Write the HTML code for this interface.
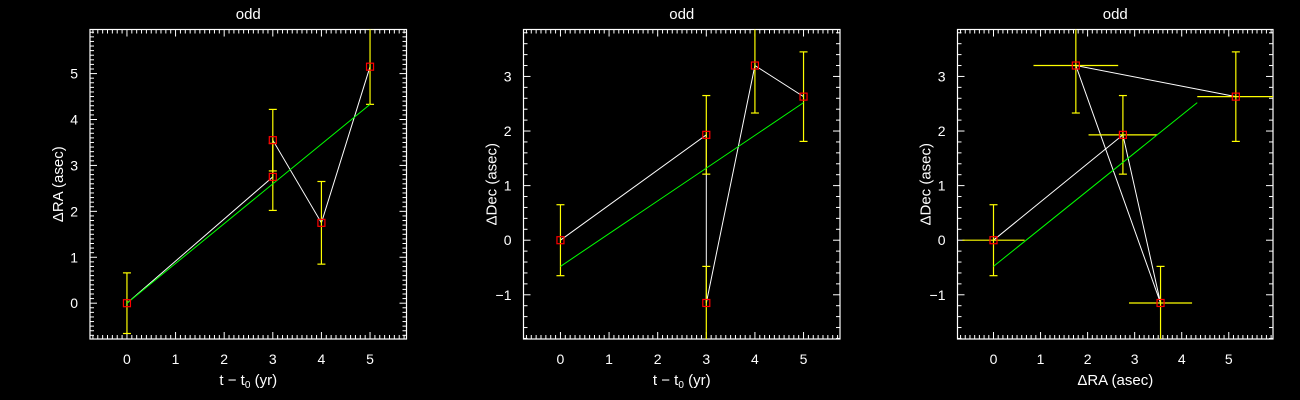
<!DOCTYPE html>
<html><head><meta charset="utf-8"><style>
html,body{margin:0;padding:0;background:#000;width:1300px;height:400px;overflow:hidden}
svg{display:block}
text{font-family:"Liberation Sans","DejaVu Sans",sans-serif;fill:#fff}
</style></head><body>
<svg id="chart" width="1300" height="400"></svg>
<script>
const years = [0, 3, 3, 4, 5];
const raVals = [0, 2.75, 3.55, 1.75, 5.15];
const raErrs = [0.66, 0.73, 0.67, 0.9, 0.82];
const decVals = [0, 1.93, -1.15, 3.2, 2.63];
const decErrs = [0.65, 0.72, 0.67, 0.87, 0.82];
const raFit = [0, 4.33];
const decFit = [-0.48, 2.52];
const fitYears = [0, 5];
const xTicks = [0, 1, 2, 3, 4, 5];
const raTicks = [0, 1, 2, 3, 4, 5];
const decTicks = [-1, 0, 1, 2, 3];

const NS = "http://www.w3.org/2000/svg";
const svg = document.getElementById('chart');
function mk(tag, attrs, parent) {
  const e = document.createElementNS(NS, tag);
  for (const k in attrs) e.setAttribute(k, attrs[k]);
  (parent || svg).appendChild(e);
  return e;
}

function panel(cfg) {
  const g = mk('g', {});
  
  
  const L = cfg.box[0], R = cfg.box[1], T = 29.5, B = 339;
  const sx = v => L + (v - cfg.xr[0]) / (cfg.xr[1] - cfg.xr[0]) * (R - L);
  const sy = v => B - (v - cfg.yr[0]) / (cfg.yr[1] - cfg.yr[0]) * (B - T);
  const clip = 'clip-' + cfg.name;
  const defs = mk('defs', {}, g);
  const cp = mk('clipPath', {id: clip}, defs);
  mk('rect', {x: L, y: T, width: R - L, height: B - T}, cp);
  const frame = mk('rect', {x: L, y: T, width: R - L, height: B - T, fill: 'none', stroke: '#fff', 'stroke-width': 1.2}, g);
  
  
  // x ticks
  for (let v = Math.ceil(cfg.xr[0] / cfg.xm) * cfg.xm; v <= cfg.xr[1] + 1e-9; v += cfg.xm) {
    const maj = Math.abs(v - Math.round(v)) < 1e-6;
    const len = maj ? 7 : 4;
    const x = sx(v);
    mk('line', {x1: x, x2: x, y1: B, y2: B - len, stroke: '#fff', 'stroke-width': 1}, g);
    mk('line', {x1: x, x2: x, y1: T, y2: T + len, stroke: '#fff', 'stroke-width': 1}, g);
  }
  for (let v = Math.ceil(cfg.yr[0] / cfg.ym) * cfg.ym; v <= cfg.yr[1] + 1e-9; v += cfg.ym) {
    const maj = Math.abs(v - Math.round(v)) < 1e-6;
    const len = maj ? 7 : 4;
    const y = sy(v);
    mk('line', {x1: L, x2: L + len, y1: y, y2: y, stroke: '#fff', 'stroke-width': 1}, g);
    mk('line', {x1: R, x2: R - len, y1: y, y2: y, stroke: '#fff', 'stroke-width': 1}, g);
  }
  cfg.xt.forEach(v => {
    const t = mk('text', {x: sx(v), y: 364, 'font-size': 14, 'text-anchor': 'middle'}, g);
    t.textContent = v;
    
    
  });
  cfg.yt.forEach(v => {
    const t = mk('text', {x: L - 12, y: sy(v) + 5, 'font-size': 14, 'text-anchor': 'end'}, g);
    t.textContent = v < 0 ? '\u2212' + (-v) : v;
    
    
  });
  const title = mk('text', {x: (L + R) / 2, y: 19, 'font-size': 15, 'text-anchor': 'middle'}, g);
  title.textContent = 'odd';
  
  
  const xl = mk('text', {x: (L + R) / 2, y: 385, 'font-size': 15, 'text-anchor': 'middle'}, g);
  xl.innerHTML = cfg.xlabel;
  
  
  const yl = mk('text', {x: 0, y: 0, 'font-size': 15, 'text-anchor': 'middle', transform: `translate(${L - 27},${(T + B) / 2}) rotate(-90)`}, g);
  yl.textContent = cfg.ylabel;
  
  

  const pg = mk('g', {'clip-path': `url(#${clip})`}, g);
  // white connecting line
  const pts = cfg.xs.map((x, i) => sx(x) + ',' + sy(cfg.ys[i])).join(' ');
  const wl = mk('polyline', {points: pts, fill: 'none', stroke: '#fff', 'stroke-width': 1}, pg);
  
  
  // error bars
  cfg.xs.forEach((x, i) => {
    const X = sx(x), Y = sy(cfg.ys[i]);
    const e = cfg.yerr[i];
    const y1 = sy(cfg.ys[i] + e), y2 = sy(cfg.ys[i] - e);
    const eb = mk('g', {stroke: '#ff0', 'stroke-width': 1.2}, pg);
    
    
    mk('line', {x1: X, x2: X, y1: y1, y2: y2}, eb);
    mk('line', {x1: X - 4, x2: X + 4, y1: y1, y2: y1}, eb);
    mk('line', {x1: X - 4, x2: X + 4, y1: y2, y2: y2}, eb);
    if (cfg.xerr) {
      const ex = cfg.xerr[i];
      mk('line', {x1: sx(x - ex), x2: sx(x + ex), y1: Y, y2: Y}, eb);
    }
  });
  // fit
  const fl = mk('line', {x1: sx(cfg.fx[0]), y1: sy(cfg.fy[0]), x2: sx(cfg.fx[1]), y2: sy(cfg.fy[1]), stroke: '#0f0', 'stroke-width': 1}, pg);
  
  
  cfg.xs.forEach((x, i) => {
    const m = mk('rect', {x: sx(x) - 3.5, y: sy(cfg.ys[i]) - 3.5, width: 7, height: 7, fill: 'none', stroke: '#f00', 'stroke-width': 1.2}, pg);
    
    
  });
}

panel({name: 'ra-vs-time-panel', box: [90, 406.5], xr: [-0.76, 5.75], yr: [-0.78, 5.96], xm: 0.1, ym: 0.1,
  xt: xTicks, yt: raTicks, xs: years, ys: raVals, yerr: raErrs, fx: fitYears, fy: raFit,
  xlabel: 't \u2212 t<tspan font-size="10" dy="3">0</tspan><tspan dy="-3"> (yr)</tspan>', ylabel: '\u0394RA (asec)'});
panel({name: 'dec-vs-time-panel', box: [523.5, 840], xr: [-0.76, 5.75], yr: [-1.81, 3.86], xm: 0.1, ym: 0.2,
  xt: xTicks, yt: decTicks, xs: years, ys: decVals, yerr: decErrs, fx: fitYears, fy: decFit,
  xlabel: 't \u2212 t<tspan font-size="10" dy="3">0</tspan><tspan dy="-3"> (yr)</tspan>', ylabel: '\u0394Dec (asec)'});
panel({name: 'dec-vs-ra-panel', box: [957.5, 1273], xr: [-0.765, 5.94], yr: [-1.81, 3.86], xm: 0.1, ym: 0.2,
  xt: raTicks, yt: decTicks, xs: raVals, ys: decVals, yerr: decErrs, xerr: raErrs, fx: raFit, fy: decFit,
  xlabel: '\u0394RA (asec)', ylabel: '\u0394Dec (asec)'});
</script>
</body></html>
